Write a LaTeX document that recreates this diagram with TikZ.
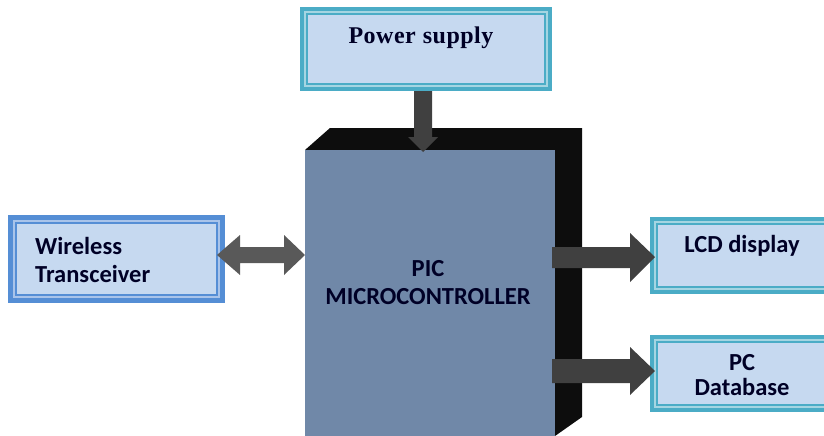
\documentclass[tikz,border=0pt]{standalone}
\usepackage{fontspec}
\setmainfont{Carlito}
\newfontfamily\psfont{Liberation Serif}
\definecolor{teal}{HTML}{4BACC6}
\definecolor{tealL}{HTML}{A5D5E2}
\definecolor{boxfill}{HTML}{C6D9F0}
\definecolor{wblue}{HTML}{558ED5}
\definecolor{wblueL}{HTML}{A9C4EA}
\definecolor{mcfront}{HTML}{7088A8}
\definecolor{arrdark}{HTML}{404040}
\definecolor{arrmid}{HTML}{595959}
\begin{document}
\begin{tikzpicture}[x=1pt,y=-1pt,
  txt/.style={font=\bfseries\fontsize{24.5}{28}\selectfont, text=black!85!blue, align=center, inner sep=0pt},
  pstxt/.style={font=\psfont\bfseries\fontsize{24}{28}\selectfont, text=black!85!blue, inner sep=0pt},
]
\useasboundingbox (0,0) rectangle (824,436);
% --- Power supply box
\fill[teal] (300,7) rectangle (552,91);
\fill[tealL] (304,11) rectangle (548,87);
\fill[teal] (306,13) rectangle (546,85);
\fill[boxfill] (308,15) rectangle (544,83);
\node[pstxt] (ps) at (421,38) {P\kern0.5pt o\kern0.5pt w\kern0.5pt e\kern0.5pt r\kern1pt\ s\kern0.5pt u\kern0.5pt p\kern0.5pt p\kern0.5pt l\kern0.5pt y};
% --- Microcontroller
\fill[black!95] (305,150) -- (330,128) -- (582,128) -- (582,417) -- (555,436) -- (555,150) -- cycle;
\fill[mcfront] (305,150) rectangle (555,436);
\node[txt] (mc) at (428,283) {PIC\\MICROCONTROLLER};
% --- Wireless box
\fill[wblue] (8,215) rectangle (225,303);
\fill[wblueL] (13,220) rectangle (220,298);
\fill[wblue] (15,222) rectangle (218,296);
\fill[boxfill] (17,224) rectangle (216,294);
\node[txt, align=left, anchor=west] (wt) at (35,260) {Wireless\\Transceiver};
% --- LCD box
\fill[teal] (650,217) rectangle (830,294);
\fill[tealL] (654,221) rectangle (830,290);
\fill[teal] (656,223) rectangle (830,288);
\fill[boxfill] (658,225) rectangle (830,286);
\node[txt] (lcd) at (742,246) {LCD display};
% --- PC box
\fill[teal] (650,335) rectangle (830,412);
\fill[tealL] (654,339) rectangle (830,408);
\fill[teal] (656,341) rectangle (830,406);
\fill[boxfill] (658,343) rectangle (830,404);
\node[txt, font=\bfseries\fontsize{24.5}{25}\selectfont] (pc) at (742,375) {PC\\Database};
% --- arrows
\fill[arrdark] (414,91) -- (432,91) -- (432,137) -- (438,137) -- (423,152) -- (408,137) -- (414,137) -- cycle;
\fill[arrmid] (217,255) -- (240,235) -- (240,247) -- (284,247) -- (284,235) -- (305,255) -- (284,275) -- (284,263) -- (240,263) -- (240,275) -- cycle;
\fill[arrdark] (552,247) -- (630,247) -- (630,233) -- (655,257) -- (630,282) -- (630,268) -- (552,268) -- cycle;
\fill[arrdark] (552,359) -- (630,359) -- (630,347) -- (655,371) -- (630,395) -- (630,383) -- (552,383) -- cycle;
\end{tikzpicture}
\end{document}
